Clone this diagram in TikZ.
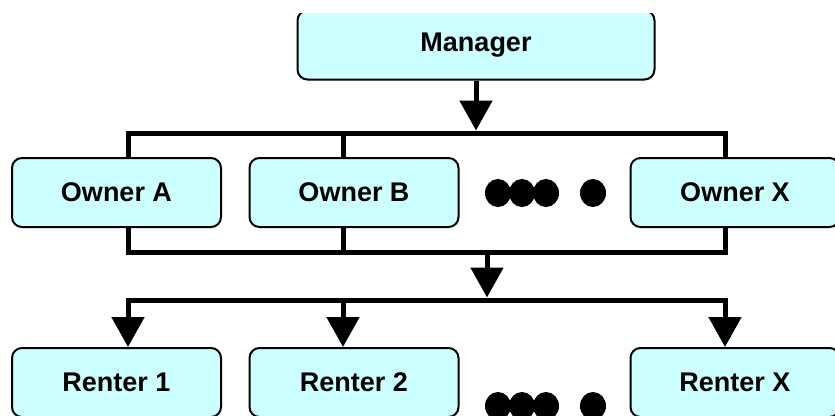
\documentclass[tikz,border=0pt]{standalone}
\usepackage{fontspec}
\setmainfont{Liberation Sans}
\usetikzlibrary{arrows.meta,shapes.geometric}
\definecolor{boxfill}{RGB}{204,255,255}
\begin{document}
\begin{tikzpicture}[x=1pt,y=-1pt,
  card/.style={draw=black, line width=2pt, rounded corners=10pt, fill=boxfill,
    minimum width=209pt, minimum height=69pt, inner sep=0pt,
    font=\fontsize{27}{32}\selectfont\bfseries},
  link/.style={line width=5pt},
  buslink/.style={line width=5pt, line cap=rect},
  arr/.style={line width=5pt, -{Triangle[length=30pt,width=32pt]}},
  blob/.style={ellipse, fill=black, minimum width=26pt, minimum height=28pt, inner sep=0pt}]
\useasboundingbox (0,0) rectangle (835,415);
\clip (0,13) rectangle (835,415);
% boxes
\node[card, minimum width=357pt] (mgr) at (476,45) {Manager};
\node[card] (ownA) at (116.5,192.5) {Owner A};
\node[card] (ownB) at (354,192.5) {Owner B};
\node[card] (ownX) at (735,192.5) {Owner X};
\node[card] (ren1) at (116.5,382.5) {Renter 1};
\node[card] (ren2) at (354,382.5) {Renter 2};
\node[card] (renX) at (735,382.5) {Renter X};
% dots
\node[blob] (d1) at (498,193) {};
\node[blob] (d2) at (522,193) {};
\node[blob] (d3) at (546,193) {};
\node[blob] (d4) at (593,193) {};
\node[blob] (e1) at (498,406) {};
\node[blob] (e2) at (522,406) {};
\node[blob] (e3) at (546,406) {};
\node[blob] (e4) at (593,406) {};
% coordinates
\coordinate (mtip) at (476,130.5);
\coordinate (tA) at (128,133);
\coordinate (tB) at (343,133);
\coordinate (tX) at (725,133);
\coordinate (bA) at (128,252);
\coordinate (bB) at (343,252);
\coordinate (bX) at (725,252);
\coordinate (mid) at (487,252);
\coordinate (midtip) at (487,297.5);
\coordinate (rA) at (128,300);
\coordinate (rB) at (343,300);
\coordinate (rX) at (725,300);
% connectors
\draw[arr] (mgr.south) -- (mtip);
\draw[link] (tA |- ownA.north) -- (tA) -- (tX) -- (tX |- ownX.north);
\draw[link] (tB) -- (tB |- ownB.north);
\draw[link] (bA |- ownA.south) -- (bA) -- (bX) -- (bX |- ownX.south);
\draw[link] (bB |- ownB.south) -- (bB);
\draw[arr] (mid) -- (midtip);
\draw[buslink] (rA) -- (rX);
\draw[arr] (rA) -- (rA |- ren1.north);
\draw[arr] (rB) -- (rB |- ren2.north);
\draw[arr] (rX) -- (rX |- renX.north);
\end{tikzpicture}
\end{document}
